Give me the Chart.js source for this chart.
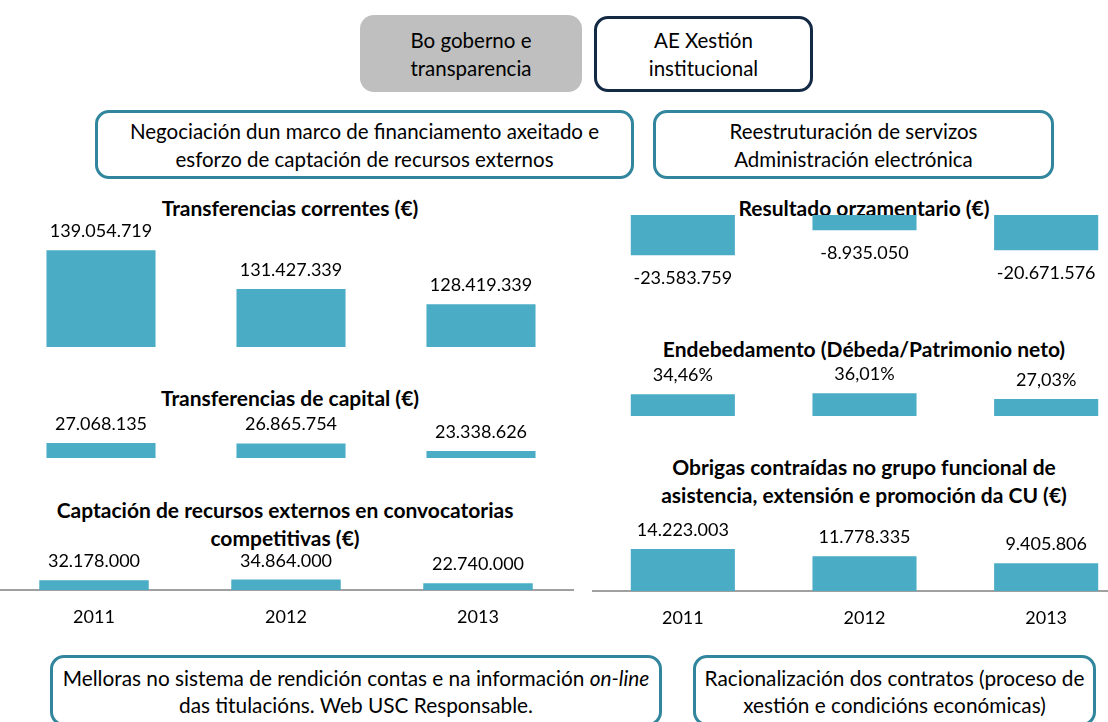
<!DOCTYPE html>
<html>
<head>
<meta charset="utf-8">
<script src="https://cdn.jsdelivr.net/npm/chart.js@4.4.1/dist/chart.umd.min.js"></script>
<style>
    body { margin: 0; background: #fff; }
    #page { position: relative; width: 1108px; height: 722px; overflow: hidden; font-family: Lato, "Open Sans", sans-serif; color: #000; }
    .box { position: absolute; box-sizing: border-box; border-radius: 14px; display: flex; flex-direction: column; justify-content: center; align-items: center; text-align: center; font-size: 20.5px; line-height: 28px; background: #fff; white-space: nowrap; }
    .teal { border: 3px solid #31859c; }
    .title { position: absolute; font-weight: bold; font-size: 21px; line-height: 28px; text-align: center; white-space: nowrap; transform: translateX(-50%); }
    canvas { position: absolute; }
</style>
</head>
<body>
<div id="page">
    <div class="box" style="left:360px;top:15px;width:222px;height:77px;background:#bfbfbf;"><div>Bo goberno e</div><div>transparencia</div></div>
    <div class="box" style="left:594px;top:16px;width:219px;height:76px;border:3.5px solid #142a44;"><div>AE Xestión</div><div>institucional</div></div>
    <div class="box teal" style="left:95px;top:110px;width:539px;height:69px;"><div>Negociación dun marco de financiamento axeitado e</div><div>esforzo de captación de recursos externos</div></div>
    <div class="box teal" style="left:653px;top:110px;width:401px;height:69px;"><div>Reestruturación de servizos</div><div>Administración electrónica</div></div>
    <div class="box teal" style="left:50px;top:655px;width:612px;height:71px;font-size:20.8px;line-height:27px;"><div>Melloras no sistema de rendición contas e na información <i>on-line</i></div><div>das titulacións. Web USC Responsable.</div></div>
    <div class="box teal" style="left:693px;top:655px;width:403px;height:71px;font-size:20.8px;line-height:27px;"><div>Racionalización dos contratos (proceso de</div><div>xestión e condicións económicas)</div></div>

    <div class="title" style="left:290px;top:194px;">Transferencias correntes (€)</div>
    <div class="title" style="left:290px;top:384px;">Transferencias de capital (€)</div>
    <div class="title" style="left:285px;top:496px;">Captación de recursos externos en convocatorias<br>competitivas (€)</div>
    <div class="title" style="left:864px;top:194px;">Resultado orzamentario (€)</div>
    <div class="title" style="left:864px;top:335px;">Endebedamento (Débeda/Patrimonio neto)</div>
    <div class="title" style="left:864px;top:453px;">Obrigas contraídas no grupo funcional de<br>asistencia, extensión e promoción da CU (€)</div>

    <canvas id="correntes" width="570" height="135" style="left:6px;top:215px;"></canvas>
    <canvas id="capital" width="570" height="46" style="left:6px;top:415px;"></canvas>
    <canvas id="captacion" width="576" height="100" style="left:-2px;top:540px;"></canvas>
    <canvas id="resultado" width="545" height="90" style="left:592px;top:215px;"></canvas>
    <canvas id="endebedamento" width="545" height="63" style="left:592px;top:355px;"></canvas>
    <canvas id="obrigas" width="545" height="121" style="left:592px;top:520px;"></canvas>
</div>

<script>
// Datos
const years = ['2011', '2012', '2013'];
const transfCorrentes = [139054719, 131427339, 128419339];
const transfCapital = [27068135, 26865754, 23338626];
const captacionRecursos = [32178000, 34864000, 22740000];
const resultadoOrzamentario = [-23583759, -8935050, -20671576];
const endebedamento = [34.46, 36.01, 27.03];
const obrigasContraidas = [14223003, 11778335, 9405806];

const barColor = '#4BACC6';

// Formatos
function euros(v) {
    const s = Math.abs(v).toString().replace(/\B(?=(\d{3})+(?!\d))/g, '.');
    return (v < 0 ? '-' : '') + s;
}
function percent(v) {
    return v.toFixed(2).replace('.', ',') + '%';
}

// Etiquetas de valor enriba (ou debaixo) das barras
const valueLabels = {
    id: 'valueLabels',
    afterDatasetsDraw(chart, args, opts) {
        const ctx = chart.ctx;
        const data = chart.data.datasets[0].data;
        ctx.save();
        ctx.font = '18px Lato';
        ctx.fillStyle = '#000';
        ctx.textAlign = 'center';
        ctx.textBaseline = 'alphabetic';
        chart.getDatasetMeta(0).data.forEach((bar, i) => {
            const v = data[i];
            const y = v < 0 ? bar.y + 29 : bar.y - 13;
            ctx.fillText(opts.format(v), bar.x, y);
        });
        ctx.restore();
    }
};

function makeBars(id, values, o) {
    const xScale = o.axis ? {
        display: true,
        grid: { display: true, drawOnChartArea: false, drawTicks: false },
        border: { display: true, color: '#a0a0a0', width: 2 },
        ticks: { color: '#000', font: { family: 'Lato', size: 18 }, padding: 16 },
        afterFit: (scale) => { scale.height = o.axis; }
    } : { display: false };

    return new Chart(document.getElementById(id), {
        type: 'bar',
        data: {
            labels: years,
            datasets: [{
                data: values,
                backgroundColor: barColor,
                borderWidth: 0,
                categoryPercentage: 1,
                barPercentage: o.bar
            }]
        },
        options: {
            responsive: false,
            animation: false,
            layout: { padding: { top: 0, bottom: o.padBottom || 0, left: 0, right: 0 } },
            plugins: {
                legend: { display: false },
                tooltip: { enabled: false },
                valueLabels: { format: o.format || euros }
            },
            scales: {
                x: xScale,
                y: { display: false, min: o.min, max: o.max }
            }
        },
        plugins: [valueLabels]
    });
}

makeBars('correntes', transfCorrentes, { min: 120e6, max: 120e6 + 132 / 5.08 * 1e6, padBottom: 3, bar: 0.574 });
makeBars('capital', transfCapital, { min: 20e6, max: 20e6 + 43 / 2.12 * 1e6, padBottom: 3, bar: 0.574 });
makeBars('captacion', captacionRecursos, { min: 0, max: 50 / 0.30 * 1e6, axis: 50, bar: 0.57 });
makeBars('resultado', resultadoOrzamentario, { min: -90 / 1.71 * 1e6, max: 0, bar: 0.573 });
makeBars('endebedamento', endebedamento, { min: 0, max: 61 / 0.63, padBottom: 2, bar: 0.573, format: percent });
makeBars('obrigas', obrigasContraidas, { min: 0, max: 71 / 2.95 * 1e6, axis: 50, bar: 0.573 });
</script>
</body>
</html>
